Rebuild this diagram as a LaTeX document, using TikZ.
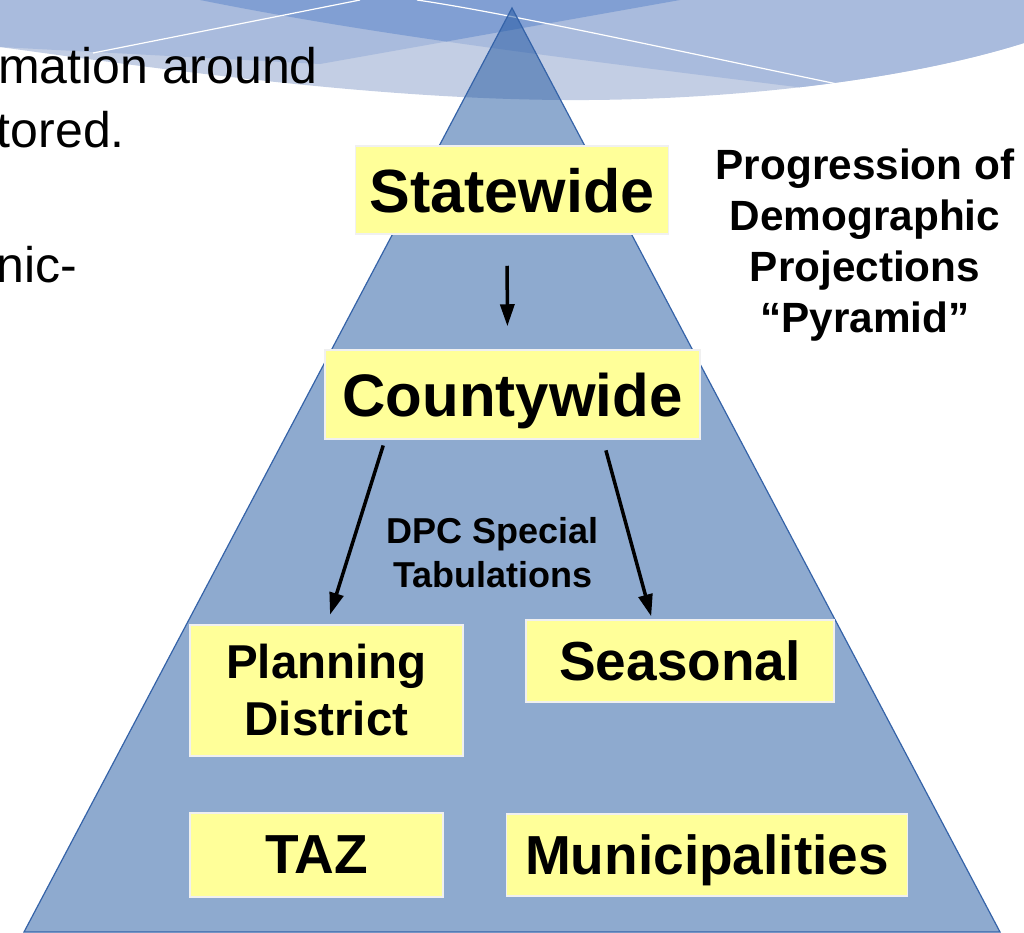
\documentclass[tikz,border=0pt]{standalone}
\usepackage{fontspec}
\setmainfont{Liberation Sans}
\usetikzlibrary{arrows.meta}
\definecolor{swlight}{HTML}{C3CEE4}
\definecolor{swmid}{HTML}{A9BBDD}
\definecolor{swdark}{HTML}{819FD3}
\definecolor{pyrblue}{RGB}{30,85,160}
\definecolor{pyredge}{HTML}{3563A8}
\definecolor{tieryellow}{HTML}{FFFF99}
\tikzset{
 tier/.style={fill=tieryellow, draw=gray!12, line width=1.5pt, inner sep=0pt, align=center},
 flow/.style={black, line width=3.5pt, ->, >={Triangle[length=22pt,width=14pt]}},
}

\begin{document}
\begin{tikzpicture}[x=1pt,y=-1pt]
\useasboundingbox (0,0) rectangle (1024,932);
\clip (0,0) rectangle (1024,932);

% header swoosh
\begin{scope}
\clip (0,0) -- (1024,0) -- (1024,43) .. controls (900,82) and (720,101) .. (565,100)
 .. controls (380,99) and (180,72) .. (0,47) -- cycle;
\fill[swlight] (0,0) rectangle (1024,110);
\fill[swmid] (0,0) -- (0,47) -- (320,64) -- (680,0) -- cycle;
\fill[swmid] (200,0) .. controls (400,40) and (600,62) .. (900,100) -- (1024,110) -- (1024,0) -- cycle;
\begin{scope}
\clip (0,0) -- (0,47) -- (320,64) -- (680,0) -- cycle;
\fill[swdark] (200,0) .. controls (400,40) and (600,62) .. (900,100) -- (1024,110) -- (1024,0) -- cycle;
\end{scope}
\end{scope}
\draw[white, line width=1.2pt] (93,53) -- (360,0);
\draw[white, line width=1.2pt] (417,0) .. controls (500,12) and (650,45) .. (842,85);

% pyramid
\filldraw[fill=pyrblue, fill opacity=.5, draw=pyredge, line width=1.2pt] (512,8) -- (1000,932) -- (24,932) -- cycle;

% text running in from the left
\node[anchor=base east, inner sep=0pt, font=\fontsize{50}{60}\selectfont] (lineA) at (318,83) {mation around};
\node[anchor=base east, inner sep=0pt, font=\fontsize{50}{60}\selectfont] (lineB) at (125,147) {tored.};
\node[anchor=base east, inner sep=0pt, font=\fontsize{50}{60}\selectfont] (lineC) at (77,282) {nic-};

\node[tier, text depth=0pt, minimum width=313pt, minimum height=88pt, font=\bfseries\fontsize{61}{72}\selectfont] (state) at (512,190) {Statewide};
\node[tier, text depth=0pt, minimum width=375pt, minimum height=89pt, font=\bfseries\fontsize{60}{72}\selectfont] (county) at (512.5,394.5) {Countywide};
\node[tier, minimum width=273pt, minimum height=131pt, font=\bfseries\fontsize{47.5}{57}\selectfont] (plan) at (326.5,690.5) {Planning\\District};
\node[tier, text depth=0pt, minimum width=308pt, minimum height=82pt, font=\bfseries\fontsize{55}{66}\selectfont] (seas) at (680,661) {Seasonal};
\node[tier, text depth=0pt, minimum width=253pt, minimum height=84pt, font=\bfseries\fontsize{55}{66}\selectfont] (taz) at (316.5,855) {TAZ};
\node[tier, text depth=0pt, minimum width=401pt, minimum height=82pt, font=\bfseries\fontsize{55}{66}\selectfont] (muni) at (707,855) {Municipalities};

\node[align=center, inner sep=0pt, font=\bfseries\fontsize{36}{44}\selectfont] (dpc) at (493,553) {DPC Special\\Tabulations};
\node[anchor=north, align=center, inner sep=0pt, font=\bfseries\fontsize{42.3}{51}\selectfont] (title) at (865,149) {Progression of\\Demographic\\Projections\\“Pyramid”};

\draw[flow, shorten <=31pt, shorten >=23pt] ([xshift=-5pt]state.south) -- ([xshift=-5pt]county.north);
\draw[flow, shorten <=6pt, shorten >=10pt] ([xshift=-127.5pt]county.south) -- ([xshift=0.5pt]plan.north);
\draw[flow, shorten <=11pt, shorten >=3pt] ([xshift=90.5pt]county.south) -- ([xshift=-28pt]seas.north);
\end{tikzpicture}
\end{document}
